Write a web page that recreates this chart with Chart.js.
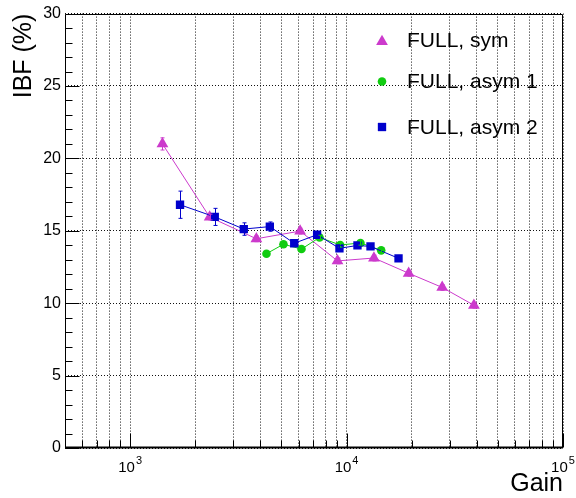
<!DOCTYPE html>
<html>
<head>
<meta charset="utf-8">
<script src="https://cdn.jsdelivr.net/npm/chart.js@4.4.1/dist/chart.umd.min.js"></script>
<style>
  html, body { margin: 0; padding: 0; background: #fff; }
  canvas { display: block; }
</style>
</head>
<body>
<canvas id="ibfChart" width="576" height="498"></canvas>
<script>
// Valores (IBF em %, ganho em escala log)
const symGain = [1410, 2330, 3830, 6100, 9080, 13380, 19360, 27660, 38760];
const symIbf = [21.0, 15.95, 14.45, 14.98, 12.92, 13.12, 12.07, 11.09, 9.86];
const symErr = [0.42, 0.2, 0.2, 0.2, 0.2, 0.2, 0.2, 0.2, 0.2];

const asym1Gain = [4265, 5110, 6190, 7500, 9340, 11590, 14450];
const asym1Ibf = [13.42, 14.07, 13.74, 14.54, 14.02, 14.16, 13.65];
const asym1Err = [0.15, 0.15, 0.15, 0.15, 0.15, 0.15, 0.15];

const asym2Gain = [1700, 2460, 3350, 4420, 5730, 7310, 9270, 11230, 12900, 17380];
const asym2Ibf = [16.8, 15.96, 15.12, 15.29, 14.14, 14.73, 13.79, 13.99, 13.92, 13.10];
const asym2Err = [0.94, 0.59, 0.43, 0.32, 0.2, 0.2, 0.2, 0.2, 0.2, 0.2];

const seriesLabels = ['FULL, sym', 'FULL, asym 1', 'FULL, asym 2'];
const xTickExp = [3, 4, 5];       // rótulos 10^3, 10^4, 10^5
const xTitle = 'Gain';
const yTitle = 'IBF (%)';

const FONT = '"Liberation Sans", Arial, Helvetica, sans-serif';
const MAGENTA = '#cc3acc';
const GREEN = '#10cc10';
const BLUE = '#0000cc';

function pontos(xs, ys) {
    return xs.map((x, i) => ({ x: x, y: ys[i] }));
}

// linhas de grade do eixo x: 600..900, 2000..9000, 20000..90000 e as décadas
function xGridValues() {
    const vals = [];
    for (let d = 100; d <= 10000; d *= 10) {
        for (let k = 1; k <= 9; k++) {
            const v = k * d;
            if (v > 500 && v <= 100000) vals.push(v);
        }
    }
    vals.push(100000);
    return vals;
}

function desenhaMarcador(ctx, style, x, y, r, color) {
    ctx.save();
    ctx.fillStyle = color;
    ctx.beginPath();
    if (style === 'triangle') {
        let rad = 0;
        ctx.moveTo(x + Math.sin(rad) * r, y - Math.cos(rad) * r);
        rad += 2 * Math.PI / 3;
        ctx.lineTo(x + Math.sin(rad) * r, y - Math.cos(rad) * r);
        rad += 2 * Math.PI / 3;
        ctx.lineTo(x + Math.sin(rad) * r, y - Math.cos(rad) * r);
        ctx.closePath();
    } else if (style === 'rect') {
        const s = Math.SQRT1_2 * r;
        ctx.rect(x - s, y - s, 2 * s, 2 * s);
    } else {
        ctx.arc(x, y, r, 0, 2 * Math.PI);
    }
    ctx.fill();
    ctx.restore();
}

const errorsBySet = [symErr, asym1Err, asym2Err];

// Estilo "ROOT": barras de erro, moldura, ticks internos, rótulos e legenda
const rootStyle = {
    id: 'rootStyle',
    afterDatasetsDraw(chart) {
        const ctx = chart.ctx;
        const xs = chart.scales.x, ys = chart.scales.y;
        chart.data.datasets.forEach((ds, i) => {
            const errs = errorsBySet[i];
            ctx.save();
            ctx.strokeStyle = ds.borderColor;
            ctx.lineWidth = 1;
            ds.data.forEach((p, j) => {
                const px = Math.round(xs.getPixelForValue(p.x)) + 0.5;
                const top = ys.getPixelForValue(p.y + errs[j]);
                const bot = ys.getPixelForValue(p.y - errs[j]);
                ctx.beginPath();
                ctx.moveTo(px, top); ctx.lineTo(px, bot);
                ctx.moveTo(px - 2, top); ctx.lineTo(px + 2, top);
                ctx.moveTo(px - 2, bot); ctx.lineTo(px + 2, bot);
                ctx.stroke();
            });
            ctx.restore();
        });
    },
    afterDraw(chart) {
        const ctx = chart.ctx;
        const area = chart.chartArea;
        const xs = chart.scales.x, ys = chart.scales.y;
        const L = Math.round(area.left) + 0.5, R = Math.round(area.right) - 0.5;
        const T = Math.round(area.top) + 0.5, B = Math.round(area.bottom) - 0.5;

        ctx.save();
        ctx.strokeStyle = '#000';
        ctx.lineWidth = 1;
        ctx.beginPath();
        ctx.rect(L, T, R - L, B - T);
        ctx.stroke();
        ctx.lineWidth = 2;
        ctx.beginPath();
        ctx.moveTo(L - 0.5, B); ctx.lineTo(R + 0.5, B);
        ctx.stroke();

        // ticks internos eixo y
        ctx.lineWidth = 1;
        ctx.beginPath();
        for (let v = 0; v <= 30; v++) {
            const py = Math.round(ys.getPixelForValue(v)) + 0.5;
            const len = v % 5 === 0 ? 14 : 7;
            ctx.moveTo(L, py); ctx.lineTo(L + len, py);
        }
        // ticks internos eixo x
        xGridValues().forEach(v => {
            const px = Math.round(xs.getPixelForValue(v)) + 0.5;
            const dec = Math.abs(Math.log10(v) - Math.round(Math.log10(v))) < 1e-9;
            ctx.moveTo(px, B); ctx.lineTo(px, B - (dec ? 14 : 7));
        });
        ctx.stroke();

        // rótulos 10^n
        ctx.fillStyle = '#000';
        ctx.textAlign = 'left';
        ctx.textBaseline = 'alphabetic';
        xTickExp.forEach(e => {
            const px = xs.getPixelForValue(Math.pow(10, e));
            ctx.font = '15px ' + FONT;
            const wb = ctx.measureText('10').width;
            ctx.font = '11px ' + FONT;
            const we = ctx.measureText(String(e)).width;
            const x0 = px - (wb + we + 1) / 2;
            ctx.font = '15px ' + FONT;
            ctx.fillText('10', x0, 472);
            ctx.font = '11px ' + FONT;
            ctx.fillText(String(e), x0 + wb + 1, 464);
        });

        // títulos dos eixos
        ctx.font = '25px ' + FONT;
        ctx.textAlign = 'right';
        ctx.fillText(xTitle, area.right, 491);
        ctx.save();
        ctx.translate(31, area.top);
        ctx.rotate(-Math.PI / 2);
        ctx.textAlign = 'right';
        ctx.fillText(yTitle, 0, 0);
        ctx.restore();

        // legenda
        const rowsY = [40.5, 81.5, 127];
        ctx.font = '21px ' + FONT;
        ctx.textAlign = 'left';
        ctx.textBaseline = 'middle';
        chart.data.datasets.forEach((ds, i) => {
            desenhaMarcador(ctx, ds.pointStyle, 382, rowsY[i] + (ds.pointStyle === 'triangle' ? 1 : 0),
                ds.pointRadius, ds.backgroundColor);
            ctx.fillStyle = '#000';
            ctx.fillText(ds.label, 407, rowsY[i] + 1);
        });
        ctx.restore();
    }
};

const ctx = document.getElementById('ibfChart').getContext('2d');

const chart = new Chart(ctx, {
    type: 'scatter',
    data: {
        datasets: [
            {
                label: seriesLabels[0], data: pontos(symGain, symIbf), showLine: true,
                borderColor: MAGENTA, backgroundColor: MAGENTA, borderWidth: 1,
                pointStyle: 'triangle', pointRadius: 6.8, pointBorderWidth: 0, order: 3
            },
            {
                label: seriesLabels[1], data: pontos(asym1Gain, asym1Ibf), showLine: true,
                borderColor: GREEN, backgroundColor: GREEN, borderWidth: 1,
                pointStyle: 'circle', pointRadius: 4.3, pointBorderWidth: 0, order: 2
            },
            {
                label: seriesLabels[2], data: pontos(asym2Gain, asym2Ibf), showLine: true,
                borderColor: BLUE, backgroundColor: BLUE, borderWidth: 1,
                pointStyle: 'rect', pointRadius: 5.9, pointBorderWidth: 0, order: 1
            }
        ]
    },
    options: {
        responsive: false,
        animation: false,
        layout: { padding: { left: 0, top: 10, right: 13, bottom: 0 } },
        plugins: { legend: { display: false }, tooltip: { enabled: false } },
        scales: {
            x: {
                type: 'logarithmic',
                min: 500, max: 100000,
                afterBuildTicks: s => { s.ticks = xGridValues().map(v => ({ value: v })); },
                afterFit: s => { s.height = 50; },
                ticks: { display: false },
                grid: { color: '#111', lineWidth: 1, drawTicks: false },
                border: { display: false, dash: [1, 2] }
            },
            y: {
                min: 0, max: 30,
                afterFit: s => { s.width = 65; },
                ticks: { stepSize: 5, padding: 4, color: '#000', font: { family: FONT, size: 16 } },
                grid: { color: '#111', lineWidth: 1, drawTicks: false },
                border: { display: false, dash: [1, 2] }
            }
        }
    },
    plugins: [rootStyle]
});
</script>
</body>
</html>
